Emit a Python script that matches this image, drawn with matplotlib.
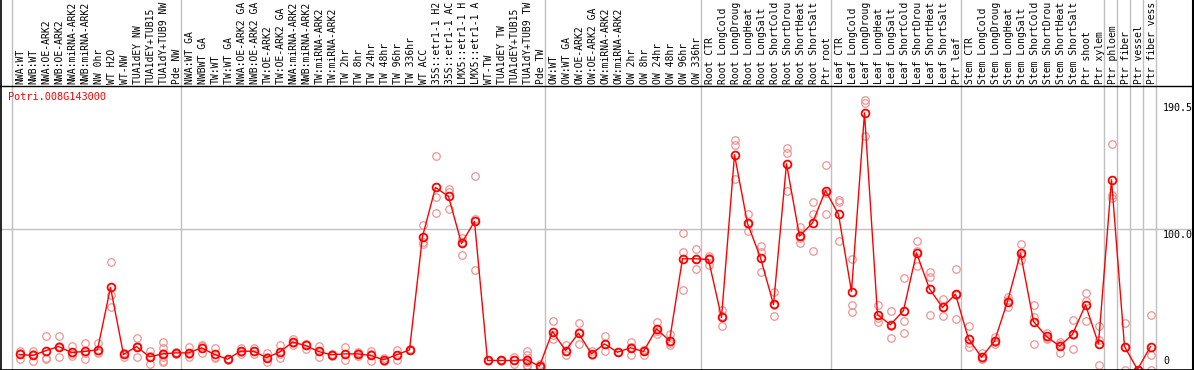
import matplotlib
matplotlib.use("Agg")
import matplotlib.pyplot as plt

gene_name = "Potri.008G143000"

sample_labels = [
    "NWA:WT", "NWB:WT", "NWA:OE-ARK2", "NWB:OE-ARK2", "NWA:miRNA-ARK2", "NWB:miRNA-ARK2",
    "NW 0hr", "WT H2O", "WT-NW", "TUA1dEY NW", "TUA1dEY+TUB15", "TUA1dY+TUB9 NW", "Pde NW",
    "NWA:WT GA", "NWBWT GA", "TW:WT", "TW:WT GA", "NWA:OE-ARK2 GA", "NWB:OE-ARK2 GA",
    "TW:OE-ARK2", "TW:OE-ARK2 GA", "NWA:miRNA-ARK2", "NWB:miRNA-ARK2", "TW:miRNA-ARK2",
    "TW:miRNA-ARK2", "TW 2hr", "TW 8hr", "TW 24hr", "TW 48hr", "TW 96hr", "TW 336hr",
    "WT ACC", "35S::etr1-1 H2", "35S::etr1-1 AC", "LMX5::etr1-1 H", "LMX5::etr1-1 A",
    "WT-TW", "TUA1dEY TW", "TUA1dEY+TUB15", "TUA1dY+TUB9 TW", "Pde TW",
    "OW:WT", "OW:WT GA", "OW:OE-ARK2", "OW:OE-ARK2 GA", "OW:miRNA-ARK2", "OW:miRNA-ARK2",
    "OW 2hr", "OW 8hr", "OW 24hr", "OW 48hr", "OW 96hr", "OW 336hr",
    "Root CTR", "Root LongCold", "Root LongDroug", "Root LongHeat", "Root LongSalt",
    "Root ShortCold", "Root ShortDrou", "Root ShortHeat", "Root ShortSalt", "Ptr root",
    "Leaf CTR", "Leaf LongCold", "Leaf LongDroug", "Leaf LongHeat", "Leaf LongSalt",
    "Leaf ShortCold", "Leaf ShortDrou", "Leaf ShortHeat", "Leaf ShortSalt", "Ptr leaf",
    "Stem CTR", "Stem LongCold", "Stem LongDroug", "Stem LongHeat", "Stem LongSalt",
    "Stem ShortCold", "Stem ShortDrou", "Stem ShortHeat", "Stem ShortSalt", "Ptr shoot",
    "Ptr xylem", "Ptr phloem", "Ptr fiber", "Ptr vessel", "Ptr fiber vess",
]

mean_values = [
    10.7, 10.0, 13.3, 16.3, 12.1, 12.8, 14.0, 58.3, 10.7, 16.3, 9.0, 11.1, 11.8,
    11.8, 15.4, 10.7, 7.3, 13.0, 13.0, 8.5, 12.3, 19.4, 17.1, 12.8, 10.4, 11.1, 11.1,
    10.0, 6.9, 10.4, 14.0, 94.5, 129.4, 123.0, 89.6, 105.2, 6.4, 6.4, 6.4, 6.9, 2.4,
    27.0, 13.5, 25.8, 11.1, 18.2, 12.3, 15.4, 12.8, 28.9, 20.4, 78.7, 78.7,
    78.2, 37.0, 152.6, 103.8, 79.4, 46.2, 146.2, 94.8, 104.2, 127.2,
    110.2, 55.4, 182.4, 38.9, 31.8, 41.9, 82.9, 57.3, 44.1, 53.5,
    21.8, 8.8, 20.1, 48.3, 82.7, 34.1, 23.5, 16.6, 24.9, 46.0,
    18.2, 134.8, 16.3, 0.0, 16.3,
]

replicate_values = [
    [13.0, 7.6, 11.5], [13.5, 5.7, 10.8], [24.0, 8.2, 7.6], [23.5, 9.0, 16.4],
    [17.0, 9.5, 10.9], [19.0, 7.6, 12.0], [19.0, 11.6, 12.5], [76.5, 52.6, 44.3],
    [11.6, 8.8, 11.5], [22.7, 9.0, 17.0], [13.5, 4.0, 9.5],
    [19.9, 15.0, 12.0, 9.0, 6.0, 5.0], [12.5, 11.2],
    [15.9, 8.8, 11.0], [17.7, 11.8, 16.5], [15.2, 8.8, 8.2], [7.3, 7.0, 7.6],
    [15.4, 11.1, 12.5], [15.0, 10.8, 13.2], [11.6, 5.2, 8.7], [17.6, 8.3, 11.0],
    [21.7, 17.4, 19.1], [18.2, 14.7, 18.4], [16.6, 8.8, 13.0], [11.1, 9.7],
    [15.9, 6.4, 11.0], [12.2, 9.7, 11.4], [13.0, 6.2, 10.8], [8.3, 6.2, 6.2],
    [14.2, 6.9, 10.1], [14.0, 13.6, 14.4], [103.0, 90.5, 89.5],
    [151.9, 122.7, 111.4], [128.4, 126.0, 114.2], [93.8, 90.6, 81.5],
    [137.2, 107.1, 70.4], [7.1, 5.7], [6.9, 5.7, 6.6], [8.8, 4.0, 6.4],
    [13.5, 10.5, 6.0, 3.5, 2.5, 5.4], [3.9, 1.5, 1.8],
    [34.8, 21.8, 24.4], [17.5, 10.0, 13.0], [32.9, 18.2, 26.3], [12.8, 10.4],
    [23.7, 13.0, 17.9], [12.5, 12.1], [19.9, 10.4, 15.9], [14.2, 10.4, 13.8],
    [34.1, 25.4, 27.2], [25.4, 17.1, 18.7], [96.9, 83.4, 56.6], [85.8, 71.6, 78.7],
    [81.0, 74.4, 79.2], [42.6, 30.6, 37.8], [162.8, 159.7, 135.5],
    [110.2, 98.1, 103.1], [87.7, 83.4, 69.6], [55.0, 37.7, 45.9],
    [157.3, 154.0, 127.2], [101.1, 89.8, 93.5], [119.4, 110.7, 83.9],
    [145.7, 110.2, 125.7],
    [120.6, 119.0, 91.0], [78.2, 46.0, 41.2], [191.5, 189.5, 165.8],
    [46.0, 34.1, 36.6], [41.9, 22.5, 31.0], [65.2, 34.3, 26.1], [91.0, 84.0, 73.9],
    [69.2, 65.6, 38.4], [50.2, 37.7, 44.4], [71.6, 36.0, 53.0],
    [30.6, 15.9, 19.0], [11.6, 7.6, 7.3], [23.0, 18.0, 19.3], [51.3, 44.2, 49.4],
    [89.3, 77.5, 81.3], [46.0, 37.0, 18.2], [26.0, 22.0, 22.5], [19.9, 11.8, 18.1],
    [35.3, 14.7, 24.7], [54.5, 48.7, 34.8],
    [30.6, 21.3, 3.3], [160.4, 123.7, 121.8], [33.2, 15.8, 0.0], [0.0, 0.0, 0.0],
    [38.9, 10.4, 0.0],
]

group_boundaries = [0, 13, 41, 53, 63, 73, 84, 85, 86, 87, 88]
y_tick_values = [190.5, 100.0, 0]
y_tick_labels = ["190.5", "100.0", "0"]

# ---- layout (pixel geometry of the reference) ----
W, H, DPI = 1194, 370, 100
x0_px, dx_px = 19.5, 13.0          # pixel centre of sample 0, spacing
y0_px, dy_px = 369.5, 1.407        # pixel row of value 0, pixels per unit
header_row = 85.5

fig = plt.figure(figsize=(W / DPI, H / DPI), dpi=DPI)
ax = fig.add_axes([0, 0, 1, 1])
ax.set_xlim(-x0_px / dx_px, (W - x0_px) / dx_px)
ax.set_ylim((y0_px - H) / dy_px, y0_px / dy_px)
ax.axis("off")

def row_to_val(r):
    return (y0_px - r) / dy_px

def col_to_x(c):
    return (c - x0_px) / dx_px

mono = "DejaVu Sans Mono"
grid_c = "#c0c0c0"

# group separators (full height)
for k in group_boundaries:
    ax.axvline(k - 0.6, color=grid_c, lw=1.0, zorder=1)

# horizontal grid at 100
ax.plot([col_to_x(1), col_to_x(1193)], [100, 100], color=grid_c, lw=1.0, zorder=1)

# borders
ax.axvline(col_to_x(1.0), color="black", lw=1.2, zorder=5)
ax.axvline(col_to_x(1193.3), color="black", lw=1.5, zorder=5)
header_val = row_to_val(header_row)
ax.axhline(header_val, color="black", lw=1.0, zorder=5)
ax.axhline(row_to_val(369.6), color="black", lw=1.2, zorder=5)

# header sample labels
for i, lab in enumerate(sample_labels):
    ax.text(i + 0.08, header_val + 1.8 / dy_px, lab, rotation=90, ha="center",
            va="bottom", fontsize=7, family=mono, color="black", zorder=6)

# title
ax.text(col_to_x(8.5), row_to_val(97), gene_name, ha="left", va="center",
        fontsize=7.4, family=mono, color="red", zorder=6)

# right-side value labels
for v, lab in zip(y_tick_values, y_tick_labels):
    if v == 0:
        ax.text(col_to_x(1163), v + 2.5, lab, ha="left", va="bottom",
                fontsize=7.2, family=mono, color="black")
    else:
        ax.text(col_to_x(1163), v - 1.2, lab, ha="left", va="top",
                fontsize=7.2, family=mono, color="black")

# replicates
rx, ry = [], []
for i, reps in enumerate(replicate_values):
    for r in reps:
        rx.append(i)
        ry.append(r)
ax.plot(rx, ry, linestyle="none", marker="o", ms=5.4, mfc="none",
        mec="#f09393", mew=0.9, zorder=3, clip_on=False)

# mean line + markers
xs = list(range(len(mean_values)))
ax.plot(xs, mean_values, color="red", lw=1.0, zorder=4)
ax.plot(xs, mean_values, linestyle="none", marker="o", ms=5.6, mfc="none",
        mec="red", mew=1.3, zorder=4, clip_on=False)

fig.savefig("out.png", dpi=DPI)
